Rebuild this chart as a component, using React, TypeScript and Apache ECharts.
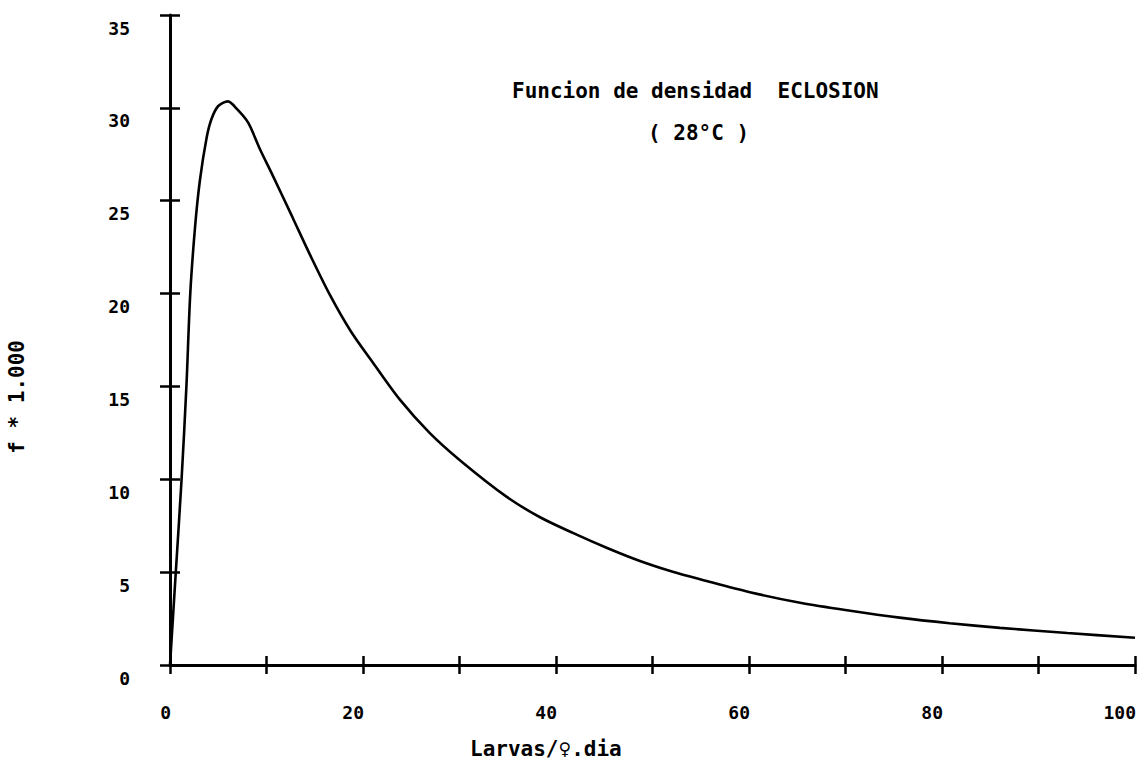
import React, { useEffect, useRef } from "react";
import * as echarts from "echarts";

const xValues = [0, 0.6, 1.2, 1.7, 2.1, 2.6, 3.1, 3.8, 4.3, 5.0, 6.0, 7.0, 8.1, 9.3, 10.7, 12.7, 14.5, 16.6, 18.7, 21.0, 23.8, 26.9, 30.1, 34.9, 38.3, 41.8, 45.3, 48.7, 52.1, 55.2, 60.1, 65.3, 70.5, 75.6, 80.8, 86.0, 93.0, 100.0];
const yValues = [0, 5, 10, 15, 20, 23.6, 26.1, 28.4, 29.4, 30.1, 30.35, 29.9, 29.2, 27.8, 26.3, 24.1, 22.1, 19.9, 18.0, 16.3, 14.3, 12.5, 11.0, 9.05, 7.97, 7.1, 6.3, 5.6, 5.02, 4.58, 3.92, 3.35, 2.92, 2.55, 2.25, 2.0, 1.72, 1.47];

const xTickStep = 10;
const xLabelStep = 20;
const yTickStep = 5;
const xMin = 0, xMax = 100, yMin = 0, yMax = 35;

const titleLine1 = "Funcion de densidad  ECLOSION";
const titleLine2 = "( 28°C )";
const xName = "Larvas/♀.dia";
const yName = "f * 1.000";

export default function App() {
  const ref = useRef<HTMLDivElement>(null);
  useEffect(() => {
    if (!ref.current) return;
    const chart = echarts.init(ref.current, null, { renderer: "svg" });
    const mono = "DejaVu Sans Mono";
    const axisLine = { show: true, onZero: false, lineStyle: { color: "#000", width: 3 } };
    const hiddenLine = { show: true, onZero: false, lineStyle: { color: "rgba(0,0,0,0)", width: 0 } };
    const tickStyle = { color: "#000", width: 2.5 };
    chart.setOption({
      animation: false,
      backgroundColor: "#fff",
      grid: { left: 170, right: 10, top: 15, bottom: 112, containLabel: false, outerBoundsMode: "none" },
      xAxis: [
        {
          type: "value", min: xMin, max: xMax, interval: xTickStep, position: "bottom",
          axisLine, splitLine: { show: false },
          axisTick: { show: true, inside: false, length: 9, lineStyle: tickStyle },
          axisLabel: {
            show: true, margin: 38, color: "#000", fontFamily: mono, fontWeight: "bold", fontSize: 18,
            align: "right", padding: [0, -1, 0, 0],
            formatter: (v: number) => (v % xLabelStep === 0 ? String(v) : ""),
          },
        },
        {
          type: "value", min: xMin, max: xMax, interval: xTickStep, position: "bottom", offset: -9,
          axisLine: hiddenLine, splitLine: { show: false },
          axisTick: { show: true, inside: false, length: 9, lineStyle: tickStyle },
          axisLabel: { show: false },
        },
      ],
      yAxis: [
        {
          type: "value", min: yMin, max: yMax, interval: yTickStep, position: "left",
          axisLine, splitLine: { show: false },
          axisTick: { show: true, inside: false, length: 10, lineStyle: tickStyle },
          axisLabel: {
            show: true, margin: 40, color: "#000", fontFamily: mono, fontWeight: "bold", fontSize: 18,
            lineHeight: 26,
            formatter: (v: number) => "\n" + String(v),
          },
        },
        {
          type: "value", min: yMin, max: yMax, interval: yTickStep, position: "left", offset: -10,
          axisLine: hiddenLine, splitLine: { show: false },
          axisTick: { show: true, inside: false, length: 10, lineStyle: tickStyle },
          axisLabel: { show: false },
        },
      ],
      series: [
        {
          type: "line",
          xAxisIndex: 0,
          yAxisIndex: 0,
          data: xValues.map((x, i) => [x, yValues[i]]),
          showSymbol: false,
          smooth: 0.3,
          lineStyle: { color: "#000", width: 2.6 },
        },
      ],
      graphic: [
        {
          type: "text", left: 512, top: 80,
          style: { text: titleLine1, fill: "#000", font: `bold 21px "${mono}"` },
        },
        {
          type: "text", left: 648, top: 122,
          style: { text: titleLine2, fill: "#000", font: `bold 21px "${mono}"` },
        },
        {
          type: "text", left: 470, top: 738,
          style: { text: xName, fill: "#000", font: `bold 21px "${mono}"` },
        },
        {
          type: "text", left: 6, top: 340, rotation: Math.PI / 2,
          style: { text: yName, fill: "#000", font: `bold 21px "${mono}"` },
        },
      ],
    });
    return () => chart.dispose();
  }, []);
  return <div ref={ref} style={{ position: "fixed", left: 0, top: 0, width: 1145, height: 777 }} />;
}
